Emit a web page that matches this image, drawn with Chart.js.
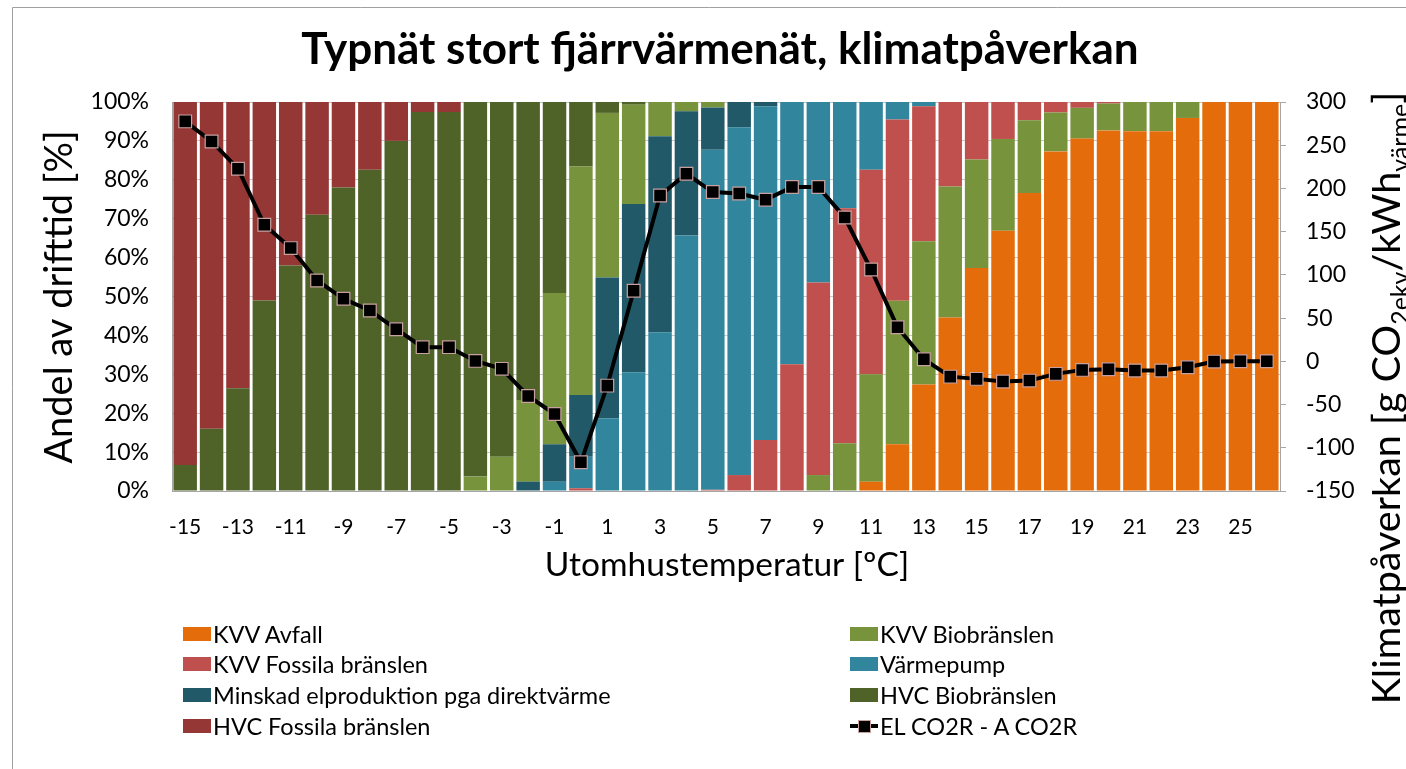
<!DOCTYPE html>
<html lang="sv">
<head>
<meta charset="utf-8">
<title>Typnät stort fjärrvärmenät, klimatpåverkan</title>
<script src="https://cdn.jsdelivr.net/npm/chart.js@4.4.1/dist/chart.umd.min.js"></script>
<style>
  html, body { margin: 0; padding: 0; background: #fff; }
  #wrap { position: relative; width: 1406px; height: 769px; overflow: hidden; font-family: Lato, "Open Sans", sans-serif; }
  #chart { position: absolute; left: 0; top: 0; }
  .item { position: absolute; white-space: nowrap; display: flex; align-items: center; height: 30px; font-size: 23.5px; color: #000; }
  .sw { width: 28px; height: 14px; margin-right: 2px; }
  .lineSw { position: relative; width: 28px; height: 14px; margin-right: 2px; }
  .lineSw::before { content: ""; position: absolute; left: 0; right: 0; top: 5px; height: 4px; background: #000; }
  .lineSw::after { content: ""; position: absolute; left: 8px; top: 1px; width: 11px; height: 11px; background: #000; border: 1px solid #c8a0a0; }
</style>
</head>
<body>
<div id="wrap">
  <canvas id="chart" width="1406" height="769"></canvas>
  <div id="legend"></div>
</div>
<script>
// ---------- DATA ----------
const temps = [-15, -14, -13, -12, -11, -10, -9, -8, -7, -6, -5, -4, -3, -2, -1, 0, 1, 2, 3, 4, 5,
  6, 7, 8, 9, 10, 11, 12, 13, 14, 15, 16, 17, 18, 19, 20, 21, 22, 23, 24, 25, 26];

// andel av drifttid [%], per utomhustemperatur
const kvvAvfall = [0, 0, 0, 0, 0, 0, 0, 0, 0, 0, 0, 0, 0, 0, 0, 0, 0, 0, 0, 0, 0,
  0, 0, 0, 0, 0, 2.4, 12, 27.4, 44.6, 57.3, 66.9, 76.6, 87.3, 90.6, 92.7, 92.5, 92.5, 95.9, 100, 100, 100];
const kvvBio = [0, 0, 0, 0, 0, 0, 0, 0, 0, 0, 0, 3.7, 8.8, 21, 38.9, 58.7, 42.3, 25.5, 8.8, 2.4, 1.4,
  0, 0, 0, 4.1, 12.3, 27.6, 36.9, 36.8, 33.7, 27.9, 23.6, 18.7, 10, 7.9, 6.9, 7.5, 7.5, 4.1, 0, 0, 0];
const kvvFossil = [0, 0, 0, 0, 0, 0, 0, 0, 0, 0, 0, 0, 0, 0, 0, 0.7, 0, 0, 0, 0, 0.3,
  4.1, 13.1, 32.6, 49.5, 60.4, 52.6, 46.6, 34.7, 21.7, 14.8, 9.5, 4.7, 2.7, 1.5, 0.4, 0, 0, 0, 0, 0, 0];
const varmepump = [0, 0, 0, 0, 0, 0, 0, 0, 0, 0, 0, 0, 0, 0, 2.4, 8.1, 18.7, 30.5, 40.8, 65.7, 87.4,
  89.4, 85.8, 67.4, 46.4, 27.3, 17.4, 4.5, 1.1, 0, 0, 0, 0, 0, 0, 0, 0, 0, 0, 0, 0, 0];
const minskadEl = [0, 0, 0, 0, 0, 0, 0, 0, 0, 0, 0, 0, 0, 2.4, 9.6, 15.9, 36.2, 43.3, 50.4, 31.9, 10.9,
  6.5, 1.1, 0, 0, 0, 0, 0, 0, 0, 0, 0, 0, 0, 0, 0, 0, 0, 0, 0, 0, 0];
const hvcBio = [6.7, 16, 26.4, 49, 58, 71, 78, 82.6, 90, 97.4, 97.4, 96.3, 91.2, 76.6, 49.1, 16.6, 2.8, 0.7, 0, 0, 0,
  0, 0, 0, 0, 0, 0, 0, 0, 0, 0, 0, 0, 0, 0, 0, 0, 0, 0, 0, 0, 0];
const hvcFossil = [93.3, 84, 73.6, 51, 42, 29, 22, 17.4, 10, 2.6, 2.6, 0, 0, 0, 0, 0, 0, 0, 0, 0, 0,
  0, 0, 0, 0, 0, 0, 0, 0, 0, 0, 0, 0, 0, 0, 0, 0, 0, 0, 0, 0, 0];

// klimatpåverkan [g CO2ekv/kWh värme]
const co2 = [277.6, 254.4, 222.8, 158, 131, 93.5, 72.3, 58.8, 37.2, 16.4, 16.4, 0.5, -8.7, -40, -60.9, -116.8,
  -28.1, 81.6, 191.9, 217, 195.8, 194.2, 186.9, 201.6, 201.6, 166.4, 106.2, 39.5, 2.5, -17.7, -20.3,
  -23.4, -22.3, -14.5, -9.9, -9.1, -10.7, -10.7, -6.8, -0.3, 0, 0];

const yLeftTicks = { min: 0, max: 100, step: 10 };
const yRightTicks = { min: -150, max: 300, step: 50 };

// ---------- COLOURS ----------
const C = {
  avfall: '#E46C0A', kvvBio: '#77933C', kvvFossil: '#C0504D', vp: '#31859C',
  minskad: '#215968', hvcBio: '#4F6228', hvcFossil: '#953735'
};

// KVV Bio sits above the heat pumps at cold temps and below the fossil CHP at warm temps
const kvvBioHigh = kvvBio.map((v, i) => temps[i] <= 5 ? v : 0);
const kvvBioLow = kvvBio.map((v, i) => temps[i] > 5 ? v : 0);

function barSet(label, data, color) {
  return { type: 'bar', label, data, backgroundColor: color, borderWidth: 0, yAxisID: 'y', order: 1,
    categoryPercentage: 0.89, barPercentage: 1 };
}

const datasets = [
  {
    type: 'line', label: 'EL CO2R - A CO2R', data: co2, yAxisID: 'y2', order: 0,
    borderColor: '#000', borderWidth: 4, pointStyle: 'rect', pointRadius: 9,
    pointBackgroundColor: '#000', pointBorderColor: '#c8a0a0', pointBorderWidth: 1.2, tension: 0
  },
  barSet('KVV Avfall', kvvAvfall, C.avfall),
  barSet('KVV Biobränslen', kvvBioLow, C.kvvBio),
  barSet('KVV Fossila bränslen', kvvFossil, C.kvvFossil),
  barSet('Värmepump', varmepump, C.vp),
  barSet('Minskad elproduktion pga direktvärme', minskadEl, C.minskad),
  barSet('KVV Biobränslen', kvvBioHigh, C.kvvBio),
  barSet('HVC Biobränslen', hvcBio, C.hvcBio),
  barSet('HVC Fossila bränslen', hvcFossil, C.hvcFossil)
];

// ---------- TEXTS DRAWN ON CANVAS ----------
const FONT = 'Lato, "Open Sans", sans-serif';
const textPlugin = {
  id: 'texts',
  afterDraw(chart) {
    const ctx = chart.ctx;
    ctx.save();
    ctx.fillStyle = '#000';

    // frame
    ctx.strokeStyle = '#a0a0a0';
    ctx.lineWidth = 1;
    ctx.beginPath();
    ctx.moveTo(12.5, 769);
    ctx.lineTo(12.5, 7.5);
    ctx.lineTo(1406, 7.5);
    ctx.stroke();

    // title
    ctx.font = 'bold 44px ' + FONT;
    ctx.textAlign = 'center';
    ctx.textBaseline = 'middle';
    ctx.fillText('Typnät stort fjärrvärmenät, klimatpåverkan', 720, 50);

    // x title
    ctx.font = '33.5px ' + FONT;
    ctx.fillText('Utomhustemperatur [ºC]', 727, 565);

    // left title
    ctx.save();
    ctx.translate(60, 297);
    ctx.rotate(-Math.PI / 2);
    ctx.font = '38px ' + FONT;
    ctx.fillText('Andel av drifttid [%]', 0, 0);
    ctx.restore();

    // right title with subscripts
    const big = '39.5px ' + FONT, small = '25px ' + FONT;
    const parts = [['Klimatpåverkan [g CO', big, 0], ['2ekv', small, 9], ['/kWh', big, 0], ['värme', small, 9], [']', big, 0]];
    let total = 0;
    parts.forEach(p => { ctx.font = p[1]; total += ctx.measureText(p[0]).width; });
    ctx.save();
    ctx.translate(1400, 398 + total / 2);
    ctx.rotate(-Math.PI / 2);
    ctx.textAlign = 'left';
    ctx.textBaseline = 'alphabetic';
    let x = 0;
    parts.forEach(p => { ctx.font = p[1]; ctx.fillText(p[0], x, p[2]); x += ctx.measureText(p[0]).width; });
    ctx.restore();

    ctx.restore();
  }
};

// ---------- CHART ----------
const tickFont = { family: FONT, size: 23 };
new Chart(document.getElementById('chart'), {
  data: { labels: temps.map(String), datasets },
  options: {
    responsive: false,
    animation: false,
    layout: { padding: { top: 102, bottom: 0, left: 0, right: 0 } },
    plugins: { legend: { display: false }, tooltip: { enabled: false } },
    scales: {
      x: {
        stacked: true,
        grid: { display: false },
        border: { display: true, color: '#a6a6a6' },
        ticks: {
          autoSkip: false, maxRotation: 0, padding: 16, color: '#000', font: { family: FONT, size: 21 },
          callback: function (v, i) { return i % 2 === 0 ? this.getLabelForValue(v) : ''; }
        },
        afterFit: s => { s.height = 278; }
      },
      y: {
        stacked: true, position: 'left',
        min: yLeftTicks.min, max: yLeftTicks.max,
        grid: { color: '#c8c8c8', drawTicks: false },
        border: { color: '#a6a6a6' },
        ticks: { stepSize: yLeftTicks.step, padding: 23, color: '#000', font: tickFont, callback: v => v + '%' },
        afterFit: s => { s.width = 172; }
      },
      y2: {
        position: 'right',
        min: yRightTicks.min, max: yRightTicks.max,
        grid: { drawOnChartArea: false, tickLength: 6, color: '#a6a6a6' },
        border: { color: '#a6a6a6' },
        ticks: { stepSize: yRightTicks.step, padding: 20, color: '#000', font: tickFont },
        afterFit: s => { s.width = 126; }
      }
    }
  },
  plugins: [textPlugin]
});

// ---------- LEGEND (two columns, row-wise like the original) ----------
const legendItems = [
  ['KVV Avfall', C.avfall, 183, 634], ['KVV Biobränslen', C.kvvBio, 850, 634],
  ['KVV Fossila bränslen', C.kvvFossil, 183, 664], ['Värmepump', C.vp, 850, 664],
  ['Minskad elproduktion pga direktvärme', C.minskad, 183, 695], ['HVC Biobränslen', C.hvcBio, 850, 695],
  ['HVC Fossila bränslen', C.hvcFossil, 183, 726], ['EL CO2R - A CO2R', null, 850, 726]
];
document.getElementById('legend').innerHTML = legendItems.map(([txt, col, lx, ly]) => `
  <div class="item" style="left:${lx}px; top:${ly - 15}px">
    ${col ? `<span class="sw" style="background:${col}"></span>` : '<span class="lineSw"></span>'}${txt}
  </div>`).join('');
</script>
</body>
</html>
